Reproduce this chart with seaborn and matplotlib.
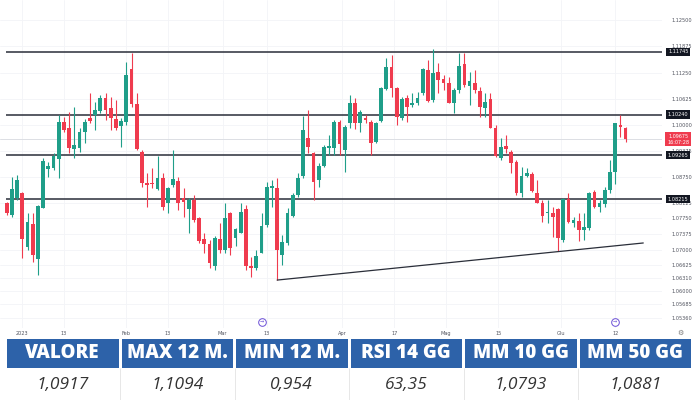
"""EUR/USD daily candles with support/resistance levels and a summary table."""

import matplotlib

matplotlib.use("Agg")
import matplotlib.pyplot as plt
import matplotlib.transforms as mtransforms
import numpy as np
import pandas as pd
import seaborn as sns
from matplotlib.patches import Rectangle

GREEN = "#1f9e89"
RED = "#ef3b4e"
BLUE = "#2d62a9"
LEVEL_COLOR = "#2a2e39"

opens = [
    1.0811, 1.0783, 1.0823, 1.0837, 1.0707, 1.0761, 1.0677, 1.0801, 1.0894, 1.0895,
    1.0917, 1.1007, 1.0991, 1.0941, 1.0945, 1.0983, 1.1017, 1.1023, 1.1033, 1.1063,
    1.1039, 1.1013, 1.0997, 1.1007, 1.1133, 1.1049, 1.0935, 1.0861, 1.0861, 1.0845,
    1.0873, 1.0811, 1.0855, 1.0865, 1.0823, 1.0797, 1.0819, 1.0775, 1.0725, 1.0713,
    1.0661, 1.0725, 1.0699, 1.0789, 1.0727, 1.0741, 1.0797, 1.0661, 1.0655, 1.0693,
    1.0759, 1.0849, 1.0847, 1.0687, 1.0715, 1.0781, 1.0831, 1.0877, 1.0969, 1.0933,
    1.0867, 1.0901, 1.0943, 1.0945, 1.1007, 1.0939, 1.1003, 1.1051, 1.1005, 1.1017,
    1.1007, 1.0959, 1.1009, 1.1085, 1.1139, 1.1087, 1.1017, 1.1063, 1.1047, 1.1051,
    1.1075, 1.1131, 1.1059, 1.1127, 1.1109, 1.1101, 1.1053, 1.1083, 1.1145, 1.1093,
    1.1099, 1.1081, 1.1039, 1.1061, 1.0991, 1.0921, 1.0949, 1.0935, 1.0911, 1.0837,
    1.0877, 1.0881, 1.0837, 1.0813, 1.0787, 1.0787, 1.0797, 1.0723, 1.0821, 1.0763,
    1.0769, 1.0747, 1.0751, 1.0839, 1.0803, 1.0809, 1.0843, 1.0887, 1.0999, 1.0993,
]
highs = [
    1.0815, 1.0875, 1.0879, 1.0839, 1.0787, 1.0787, 1.0807, 1.0919, 1.0911, 1.0931,
    1.1023, 1.1019, 1.1031, 1.1043, 1.0991, 1.1013, 1.1075, 1.1055, 1.1071, 1.1075,
    1.1067, 1.1059, 1.1015, 1.1151, 1.1171, 1.1075, 1.0939, 1.0883, 1.0895, 1.0925,
    1.0883, 1.0851, 1.0939, 1.0875, 1.0847, 1.0825, 1.0831, 1.0779, 1.0739, 1.0723,
    1.0733, 1.0763, 1.0811, 1.0791, 1.0751, 1.0811, 1.0807, 1.0683, 1.0699, 1.0787,
    1.0863, 1.0867, 1.0873, 1.0735, 1.0799, 1.0835, 1.0883, 1.1021, 1.1035, 1.0935,
    1.0907, 1.0951, 1.0975, 1.1011, 1.1011, 1.0999, 1.1071, 1.1063, 1.1035, 1.1023,
    1.1011, 1.1007, 1.1091, 1.1159, 1.1167, 1.1091, 1.1067, 1.1071, 1.1075, 1.1079,
    1.1135, 1.1155, 1.1181, 1.1147, 1.1119, 1.1115, 1.1087, 1.1171, 1.1171, 1.1127,
    1.1131, 1.1091, 1.1075, 1.1075, 1.0999, 1.0967, 1.0975, 1.0939, 1.0915, 1.0899,
    1.0895, 1.0887, 1.0867, 1.0819, 1.0819, 1.0803, 1.0799, 1.0825, 1.0835, 1.0779,
    1.0787, 1.0787, 1.0839, 1.0843, 1.0819, 1.0851, 1.0915, 1.1005, 1.1023, 1.0995,
]
lows = [
    1.0783, 1.0779, 1.0819, 1.0679, 1.0699, 1.0671, 1.0639, 1.0799, 1.0875, 1.0891,
    1.0873, 1.0983, 1.0931, 1.0919, 1.0935, 1.0955, 1.1003, 1.0987, 1.1027, 1.1011,
    1.0987, 1.0987, 1.0947, 1.0999, 1.1043, 1.0939, 1.0851, 1.0803, 1.0847, 1.0843,
    1.0795, 1.0787, 1.0851, 1.0795, 1.0779, 1.0739, 1.0767, 1.0715, 1.0691, 1.0655,
    1.0651, 1.0691, 1.0691, 1.0687, 1.0709, 1.0739, 1.0651, 1.0635, 1.0651, 1.0691,
    1.0755, 1.0803, 1.0627, 1.0663, 1.0711, 1.0779, 1.0827, 1.0871, 1.0931, 1.0819,
    1.0851, 1.0899, 1.0927, 1.0927, 1.0927, 1.0887, 1.0991, 1.0989, 1.0983, 1.1003,
    1.0927, 1.0955, 1.1007, 1.1083, 1.1067, 1.0999, 1.1011, 1.1007, 1.1043, 1.1047,
    1.1071, 1.1055, 1.1055, 1.1075, 1.1083, 1.1051, 1.1027, 1.1075, 1.1091, 1.1047,
    1.1075, 1.1019, 1.1019, 1.0991, 1.0923, 1.0915, 1.0931, 1.0883, 1.0831, 1.0827,
    1.0875, 1.0839, 1.0811, 1.0767, 1.0763, 1.0731, 1.0697, 1.0719, 1.0765, 1.0755,
    1.0721, 1.0723, 1.0747, 1.0799, 1.0791, 1.0803, 1.0835, 1.0857, 1.0971, 1.0959,
]
closes = [
    1.0787, 1.0845, 1.0867, 1.0725, 1.0767, 1.0687, 1.0805, 1.0913, 1.0901, 1.0925,
    1.1007, 1.0987, 1.0945, 1.0951, 1.0983, 1.1007, 1.1009, 1.1035, 1.1063, 1.1035,
    1.1015, 1.0991, 1.1009, 1.1119, 1.1049, 1.0941, 1.0859, 1.0855, 1.0858, 1.0871,
    1.0803, 1.0847, 1.0869, 1.0811, 1.0815, 1.0819, 1.0771, 1.0721, 1.0713, 1.0669,
    1.0727, 1.0699, 1.0775, 1.0705, 1.0749, 1.0791, 1.0661, 1.0655, 1.0685, 1.0757,
    1.0851, 1.0853, 1.0699, 1.0718, 1.0789, 1.0831, 1.0871, 1.0987, 1.0947, 1.0863,
    1.0901, 1.0947, 1.0949, 1.1007, 1.0953, 1.0995, 1.1051, 1.1005, 1.1031, 1.1011,
    1.0955, 1.1003, 1.1089, 1.1139, 1.1087, 1.1019, 1.1061, 1.1043, 1.1053, 1.1063,
    1.1133, 1.1057, 1.1123, 1.1107, 1.1099, 1.1053, 1.1083, 1.1141, 1.1095, 1.1105,
    1.1083, 1.1043, 1.1055, 1.0993, 1.0925, 1.0947, 1.0941, 1.0907, 1.0835, 1.0877,
    1.0885, 1.0841, 1.0813, 1.0781, 1.0791, 1.0779, 1.0729, 1.0821, 1.0767, 1.0771,
    1.0747, 1.0755, 1.0835, 1.0803, 1.0811, 1.0843, 1.0887, 1.1003, 1.0995, 1.0965,
]

level_prices = [1.11745, 1.10240, 1.09265, 1.08215]
level_labels = ["1.11745", "1.10240", "1.09265", "1.08215"]
last_price_label = "1.09675\n16:07:28"

trend_idx = [52, 122.4]
trend_price = [1.0627, 1.0716]

y_ticks = [1.12500, 1.11875, 1.11250, 1.10625, 1.10000, 1.09375, 1.08750, 1.08125,
           1.07750, 1.07375, 1.07000, 1.06625, 1.06310, 1.06000, 1.05685, 1.05360]
x_tick_pos = [3, 11, 23, 31, 41.5, 50, 64.5, 74.5, 84.5, 94.5, 106.5, 117]
x_tick_labels = ["2023", "13", "Feb", "13", "Mar", "13", "Apr", "17", "Mag", "15", "Giu", "12"]
event_idx = [49, 117]

header_labels = ["VALORE", "MAX 12 M.", "MIN 12 M.", "RSI 14 GG", "MM 10 GG", "MM 50 GG"]
value_labels = ["1,0917", "1,1094", "0,954", "63,35", "1,0793", "1,0881"]

sns.set_style("white")
plt.rcParams["font.family"] = ["DejaVu Sans"]

fig = plt.figure(figsize=(7, 4), dpi=100)
ax = fig.add_axes([0, 0.18, 662 / 700, 0.82])

df = pd.DataFrame({"open": opens, "high": highs, "low": lows, "close": closes})
df["idx"] = np.arange(len(df))
colors = np.where(df["close"] >= df["open"], GREEN, RED)

# wicks + bodies
ax.vlines(df["idx"], df["low"], df["high"], colors=colors, linewidth=0.8, zorder=3)
body_bottom = np.minimum(df["open"], df["close"])
body_height = np.maximum((df["close"] - df["open"]).abs(), 0.00012)
ax.bar(df["idx"], body_height, bottom=body_bottom, width=0.72, color=colors,
       linewidth=0, zorder=4)

# levels and trend line
ax.hlines(level_prices, -0.2, 126, colors=LEVEL_COLOR, linewidth=1.1, zorder=2)
ax.axhline(closes[-1], color="#dcdfe4", linewidth=0.7, zorder=1)
sns.lineplot(x=trend_idx, y=trend_price, ax=ax, color=LEVEL_COLOR, linewidth=0.9,
             zorder=5, legend=False)

ax.set_xlim(-1.29, 126.0)
ax.set_ylim(1.0512, 1.1299)
ax.set_yticks(y_ticks)
ax.set_yticklabels([f"{t:.5f}" for t in y_ticks])
ax.set_xticks(x_tick_pos)
ax.set_xticklabels(x_tick_labels)
ax.yaxis.tick_right()
ax.tick_params(axis="y", labelsize=3.6, colors="#50535e", length=0, pad=7)
ax.tick_params(axis="x", labelsize=3.6, colors="#50535e", length=0, pad=2)
ax.grid(True, color="#f3f4f7", linewidth=0.6, zorder=0)
for spine in ax.spines.values():
    spine.set_visible(False)

# price tags on the right axis
trans = mtransforms.blended_transform_factory(ax.transAxes, ax.transData)
for price, label in zip(level_prices, level_labels):
    ax.text(1.0245, price, label, transform=trans, ha="center", va="center",
            fontsize=3.6, color="white", zorder=10, clip_on=False,
            bbox=dict(boxstyle="square,pad=0.35", fc="#131722", ec="none"))
ax.text(1.0245, closes[-1], last_price_label, transform=trans, ha="center", va="center",
        fontsize=3.5, color="white", zorder=10, clip_on=False, linespacing=1.15,
        bbox=dict(boxstyle="square,pad=0.4", fc=RED, ec="none"))

# event markers near the time axis
ev_trans = mtransforms.blended_transform_factory(ax.transData, ax.transAxes)
for ev in event_idx:
    ax.plot(ev, 0.018, "o", transform=ev_trans, markersize=5.5, markerfacecolor="white",
            markeredgecolor="#6b4fd6", markeredgewidth=0.7, clip_on=False, zorder=6)
    ax.text(ev, 0.018, "→", transform=ev_trans, ha="center", va="center", fontsize=3.5,
            color="#6b4fd6", zorder=7, clip_on=False)
fig.text(680 / 700, 1 - 333 / 400, "⚙", ha="center", va="center", fontsize=5, color="#777")

# summary table
tax = fig.add_axes([0, 0, 1, 0.18])
tax.set_xlim(0, 700)
tax.set_ylim(400, 328)
tax.axis("off")
cell_w = 111.5
for i, (head, val) in enumerate(zip(header_labels, value_labels)):
    left = 7 + i * 114.5
    tax.add_patch(Rectangle((left, 339), cell_w, 28.5, fc=BLUE, ec="none"))
    tax.text(left + cell_w / 2, 353.5, head, ha="center", va="center", color="white",
             fontsize=13.5, fontweight="heavy", family="Open Sans")
    tax.text(left + cell_w / 2, 385, val, ha="center", va="center", color="#333333",
             fontsize=12.5, fontstyle="italic", family="Open Sans")
    if i > 0:
        tax.vlines(left - 1.5, 368, 400, colors="#e3e3e3", linewidth=0.6)

fig.savefig("out.png", dpi=100)
